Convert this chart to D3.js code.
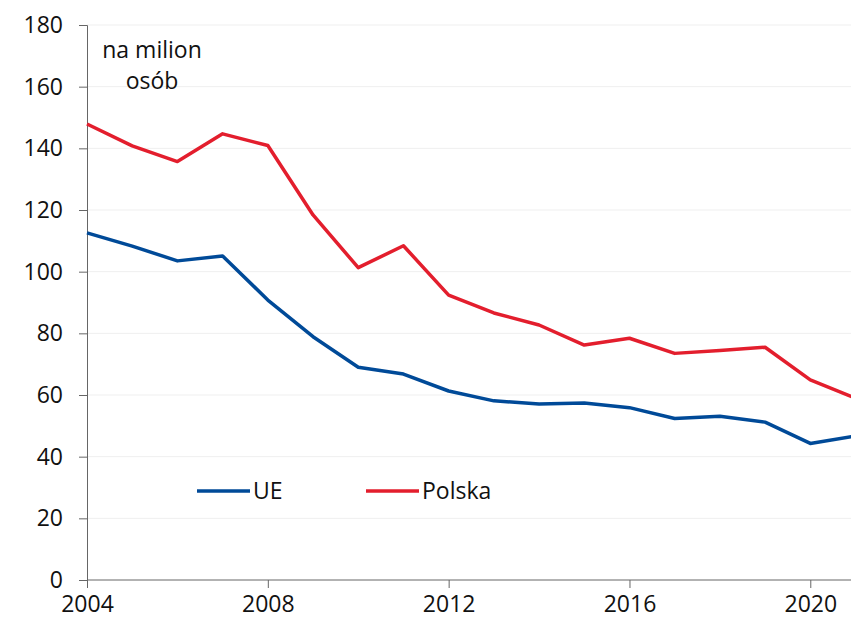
<html>
<head>
<meta charset="utf-8">
<script src="https://d3js.org/d3.v7.min.js"></script>
<style>
  body { margin: 0; background: #fff; }
  text { font-family: "Open Sans", "Lato", sans-serif; fill: #111; }
</style>
</head>
<body>
<div id="chart"></div>
<script>
// Data
var years = [2004, 2005, 2006, 2007, 2008, 2009, 2010, 2011, 2012, 2013, 2014, 2015, 2016, 2017, 2018, 2019, 2020, 2021];
var ue     = [112.6, 108.3, 103.5, 105.1, 90.8, 78.9, 69.0, 66.8, 61.3, 58.1, 57.1, 57.4, 55.9, 52.4, 53.1, 51.2, 44.3, 46.7];
var polska = [147.9, 140.8, 135.7, 144.7, 140.9, 118.4, 101.3, 108.4, 92.4, 86.6, 82.7, 76.2, 78.4, 73.5, 74.4, 75.5, 64.9, 59.0];
var yTicks = [0, 20, 40, 60, 80, 100, 120, 140, 160, 180];
var xTicks = [2004, 2008, 2012, 2016, 2020];

// Setup
var width = 851, height = 623;
var svg = d3.select("#chart").append("svg")
  .attr("width", width)
  .attr("height", height);

var x = d3.scaleLinear().domain([2004, 2021]).range([87, 855.5]);
var y = d3.scaleLinear().domain([0, 180]).range([580, 25]);

// gridlines
svg.append("g").selectAll("line")
  .data(yTicks.slice(1))
  .enter().append("line")
  .attr("x1", x(2004)).attr("x2", width)
  .attr("y1", function(d) { return y(d); })
  .attr("y2", function(d) { return y(d); })
  .attr("stroke", "#efefef")
  .attr("stroke-width", 1);

// y axis
var yAxis = svg.append("g")
  .attr("transform", "translate(" + x(2004) + ",0)")
  .call(d3.axisLeft(y).tickValues(yTicks).tickSize(8).tickPadding(16));
yAxis.select(".domain").attr("stroke", "#666");
yAxis.selectAll(".tick line").attr("stroke", "#666");
yAxis.selectAll("text").attr("font-size", "23px").style("fill", "#111");

// x axis
var xAxis = svg.append("g")
  .attr("transform", "translate(0," + y(0) + ")")
  .call(d3.axisBottom(x).tickValues(xTicks).tickFormat(d3.format("d")).tickSize(8).tickPadding(8));
xAxis.select(".domain").attr("stroke", "#666").attr("d", "M" + x(2004) + ",0H" + width);
xAxis.selectAll(".tick line").attr("stroke", "#666");
xAxis.selectAll("text").attr("font-size", "23px").style("fill", "#111");

// lines
var line = d3.line()
  .x(function(d, i) { return x(years[i]); })
  .y(function(d) { return y(d); });

svg.append("path")
  .datum(ue)
  .attr("d", line)
  .attr("fill", "none")
  .attr("stroke", "#004a98")
  .attr("stroke-width", 3.5)
  .attr("stroke-linejoin", "round");

svg.append("path")
  .datum(polska)
  .attr("d", line)
  .attr("fill", "none")
  .attr("stroke", "#e31e2d")
  .attr("stroke-width", 3.5)
  .attr("stroke-linejoin", "round");

// unit label
svg.append("text")
  .attr("x", 152).attr("y", 58)
  .attr("text-anchor", "middle")
  .attr("font-size", "23px")
  .text("na milion");
svg.append("text")
  .attr("x", 152).attr("y", 89)
  .attr("text-anchor", "middle")
  .attr("font-size", "23px")
  .text("osób");

// legend
var legend = [
  { name: "UE", color: "#004a98", x0: 197 },
  { name: "Polska", color: "#e31e2d", x0: 366 }
];
legend.forEach(function(l) {
  svg.append("line")
    .attr("x1", l.x0).attr("x2", l.x0 + 53)
    .attr("y1", 491).attr("y2", 491)
    .attr("stroke", l.color)
    .attr("stroke-width", 3.5);
  svg.append("text")
    .attr("x", l.x0 + 56).attr("y", 499)
    .attr("font-size", "23px")
    .text(l.name);
});
</script>
</body>
</html>
